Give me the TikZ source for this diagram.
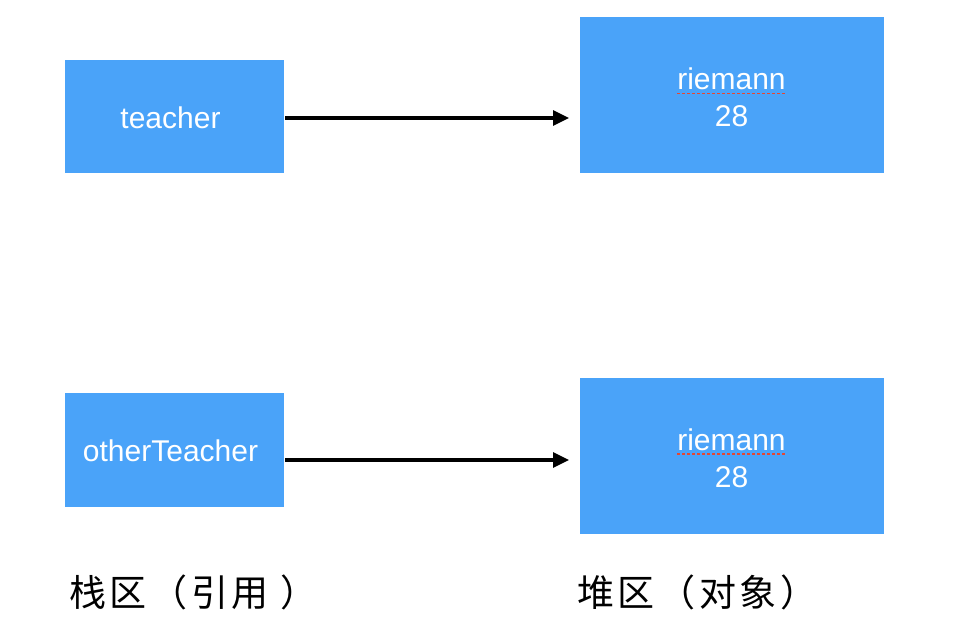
\documentclass[tikz,border=0pt]{standalone}
\usepackage{fontspec}
\setmainfont{Liberation Sans}
\newfontfamily\cjk[LetterSpace=10]{Noto Sans CJK SC}
\usetikzlibrary{arrows.meta}
\definecolor{boxblue}{RGB}{74,163,249}
\definecolor{spellred}{RGB}{230,70,50}
\begin{document}
\begin{tikzpicture}[x=1pt,y=-1pt,
  bluebox/.style={fill=boxblue,draw=none,inner sep=0pt},
  boxtext/.style={text=white,align=center,inner sep=0pt,font=\fontsize{30}{37}\selectfont},
  ptr/.style={line width=3.2pt,-{Triangle[length=16pt,width=15pt]}},
  zone/.style={anchor=west,inner sep=0pt,font=\cjk\fontsize{37}{40}\selectfont}]
\useasboundingbox (0,0) rectangle (977,636);
\node[bluebox,minimum width=219pt,minimum height=113pt] (t) at (174.5,116.5) {};
\node[boxtext] (tt) at (170.5,118) {teacher};
\node[bluebox,minimum width=304pt,minimum height=156pt] (r1) at (732,95) {};
\node[boxtext] (r1t) at (731.5,97.5) {riemann\\28};
\node[bluebox,minimum width=219pt,minimum height=114pt] (o) at (174.5,450) {};
\node[boxtext] (ot) at (170.5,451) {otherTeacher};
\node[bluebox,minimum width=304pt,minimum height=156pt] (r2) at (732,456) {};
\node[boxtext] (r2t) at (731.5,458) {riemann\\28};
\coordinate (a1) at (285,118);
\coordinate (b1) at (569,118);
\coordinate (a2) at (285,460);
\coordinate (b2) at (569,460);
\draw[ptr] (a1) -- (b1);
\draw[ptr] (a2) -- (b2);
\coordinate (u1s) at (677,93.5);
\coordinate (u1e) at (786,93.5);
\coordinate (u2s) at (677,454);
\coordinate (u2e) at (786,454);
\draw[spellred,line width=1.5pt,dash pattern=on 3pt off 2pt] (u1s) -- (u1e);
\draw[spellred,line width=1.5pt,dash pattern=on 3pt off 2pt] (u2s) -- (u2e);
\node[zone] (sl) at (69,592) {栈区（引用 ）};
\node[zone] (hl) at (577,592) {堆区（对象）};
\end{tikzpicture}
\end{document}
